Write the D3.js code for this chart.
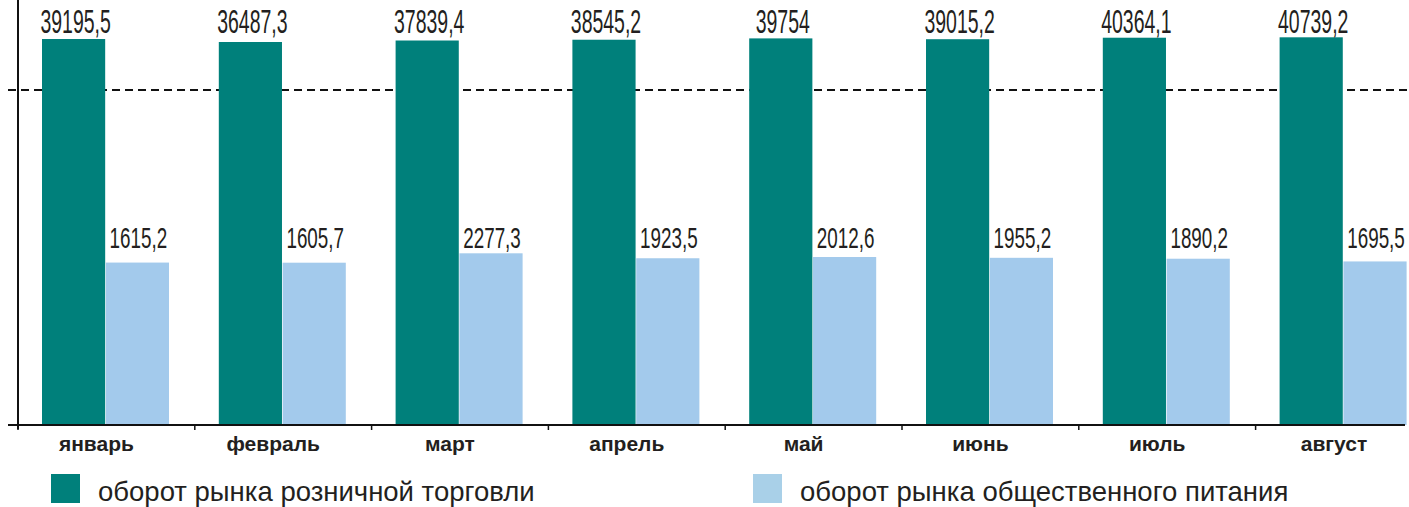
<!DOCTYPE html>
<html>
<head>
<meta charset="utf-8">
<script src="https://cdn.jsdelivr.net/npm/d3@7"></script>
<style>
  body { margin: 0; background: #fff; }
  text { font-family: "Liberation Sans", Arial, sans-serif; fill: #231f20; }
</style>
</head>
<body>
<script>
let width = 1409,
    height = 507;

// data
let months = ["январь", "февраль", "март", "апрель", "май", "июнь", "июль", "август"];
let retail = [39195.5, 36487.3, 37839.4, 38545.2, 39754, 39015.2, 40364.1, 40739.2];
let catering = [1615.2, 1605.7, 2277.3, 1923.5, 2012.6, 1955.2, 1890.2, 1695.5];
let seriesNames = ["оборот рынка розничной торговли", "оборот рынка общественного питания"];
let colors = ["#00807b", "#a3caec"];
let gridValue = 30000;

let fmt = v => String(v).replace(".", ",");

let svg = d3.select("body").append("svg")
    .attr("width", width)
    .attr("height", height);

// x: one band per month, two bars inside
let x = d3.scaleBand()
    .domain(months)
    .range([18, 18 + 176.8 * months.length]);

let xInner = d3.scaleBand()
    .domain([0, 1])
    .range([24, 151])
    .paddingInner(0.01);

// broken (polylinear) y scale, like the original infographic
let y = d3.scaleLinear()
    .domain([0, 1605.7, 2277.3, gridValue, 36487.3, 40739.2])
    .range([425, 262.7, 253.3, 90, 42, 37.3]);

// dashed grid line
svg.append("line")
    .attr("x1", 8).attr("x2", width)
    .attr("y1", y(gridValue)).attr("y2", y(gridValue))
    .attr("stroke", "#111")
    .attr("stroke-width", 2)
    .attr("stroke-dasharray", "8,5");

let groups = svg.selectAll(".grp")
    .data(months)
    .enter().append("g")
    .attr("class", "grp")
    .attr("transform", d => "translate(" + x(d) + ",0)");

// retail bars
groups.append("rect")
    .attr("x", xInner(0))
    .attr("width", xInner.bandwidth())
    .attr("y", (d, i) => y(retail[i]))
    .attr("height", (d, i) => y(0) - y(retail[i]))
    .attr("fill", colors[0]);

// catering bars
groups.append("rect")
    .attr("x", xInner(1))
    .attr("width", xInner.bandwidth())
    .attr("y", (d, i) => y(catering[i]))
    .attr("height", (d, i) => y(0) - y(catering[i]))
    .attr("fill", colors[1]);

// value labels (condensed)
groups.append("text")
    .attr("text-anchor", "middle")
    .attr("font-size", 33)
    .attr("transform", "translate(" + (xInner(0) + xInner.bandwidth() / 2 + 2) + ",33) scale(0.59,1)")
    .text((d, i) => fmt(retail[i]));

groups.append("text")
    .attr("text-anchor", "middle")
    .attr("font-size", 29)
    .attr("transform", "translate(" + (xInner(1) + xInner.bandwidth() / 2 + 1) + ",248) scale(0.65,1)")
    .text((d, i) => fmt(catering[i]));

// x axis
let xAxis = svg.append("g")
    .attr("transform", "translate(0," + y(0) + ")");

xAxis.append("line")
    .attr("x1", 8).attr("x2", 1405)
    .attr("stroke", "#111")
    .attr("stroke-width", 2);

xAxis.selectAll(".tick")
    .data(months)
    .enter().append("line")
    .attr("x1", d => x(d)).attr("x2", d => x(d))
    .attr("y1", 0).attr("y2", 5)
    .attr("stroke", "#111")
    .attr("stroke-width", 1.5);

xAxis.selectAll(".mlabel")
    .data(months)
    .enter().append("text")
    .attr("x", d => x(d) + x.bandwidth() / 2 - 10)
    .attr("y", 26)
    .attr("text-anchor", "middle")
    .attr("font-size", 21)
    .attr("font-weight", "bold")
    .text(d => d);

// y axis
svg.append("line")
    .attr("x1", 18).attr("x2", 18)
    .attr("y1", 0).attr("y2", y(0) + 4)
    .attr("stroke", "#111")
    .attr("stroke-width", 2);

// legend
let legend = svg.selectAll(".legend")
    .data(seriesNames)
    .enter().append("g")
    .attr("class", "legend")
    .attr("transform", (d, i) => "translate(" + (51 + i * 702) + ",474)");

legend.append("rect")
    .attr("width", 29).attr("height", 29)
    .attr("fill", (d, i) => i === 0 ? colors[0] : "#a9d0e8");

legend.append("text")
    .attr("x", 47)
    .attr("y", 27)
    .attr("font-size", 27.5)
    .attr("fill", "#333")
    .text(d => d);
</script>
</body>
</html>
